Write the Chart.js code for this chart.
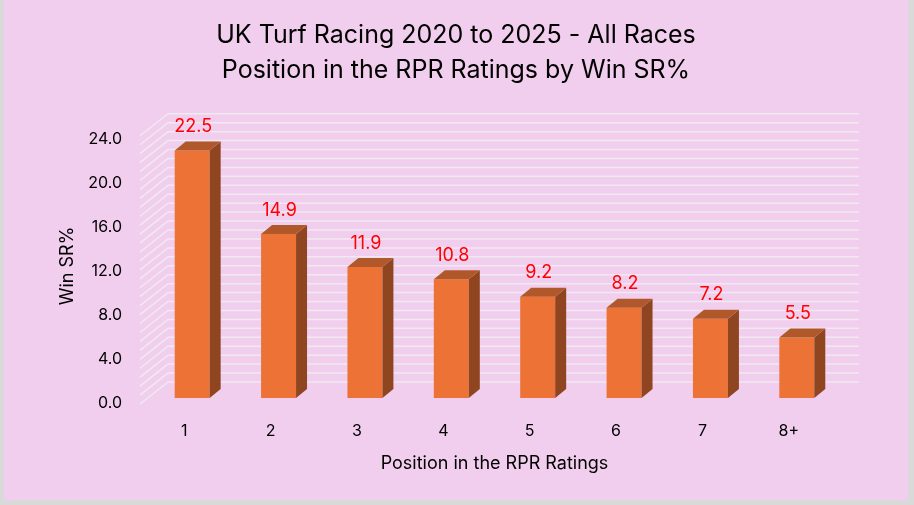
<!DOCTYPE html>
<html>
<head>
<meta charset="utf-8">
<script src="https://cdn.jsdelivr.net/npm/chart.js@4.4.1/dist/chart.umd.min.js"></script>
<style>
  html, body { margin: 0; padding: 0; background: #d9d9d9; }
  #wrap { position: absolute; left: 4px; top: 0; width: 904px; height: 500px; background: #F2CEEE; }
</style>
</head>
<body>
<div id="wrap"><canvas id="chart" width="904" height="500"></canvas></div>
<script>
// Datos del gráfico
const positions = ['1', '2', '3', '4', '5', '6', '7', '8+'];
const winSR = [22.5, 14.9, 11.9, 10.8, 9.2, 8.2, 7.2, 5.5];
const yTickStep = 4;
const yMax = 24;
const minorStep = 0.8;

const FONT = 'Inter';
const FRONT = '#EC7335';
const SIDE = '#8F4520';
const TOP = '#B0582A';
const GRID = '#EFEAEF';

// Paredes y caras laterales para simular el 3D de Excel
const depthPlugin = {
    id: 'depth',
    beforeDatasetsDraw(chart) {
        const { ctx, chartArea, scales: { y } } = chart;
        const y0 = y.getPixelForValue(0);
        const frontX = chartArea.left - 9;
        const backX = chartArea.left + 19;
        const rightX = chartArea.right + 19;
        ctx.save();
        ctx.strokeStyle = GRID;
        ctx.lineWidth = 1.5;
        const n = Math.round(yMax / minorStep);
        for (let i = 0; i <= n; i++) {
            const v = i * minorStep;
            const by = y0 - 16 - (y0 - y.getPixelForValue(v)) * 1.016;
            ctx.beginPath();
            ctx.moveTo(frontX, by + 22);
            ctx.lineTo(backX, by);
            ctx.lineTo(rightX, by);
            ctx.stroke();
        }
        ctx.restore();
    },
    afterDatasetsDraw(chart) {
        const { ctx } = chart;
        const meta = chart.getDatasetMeta(0);
        const dx = 11, dy = 9;
        ctx.save();
        meta.data.forEach((bar, i) => {
            const l = bar.x - bar.width / 2;
            const r = bar.x + bar.width / 2;
            // lado
            ctx.fillStyle = SIDE;
            ctx.beginPath();
            ctx.moveTo(r, bar.y);
            ctx.lineTo(r + dx, bar.y - dy);
            ctx.lineTo(r + dx, bar.base - dy);
            ctx.lineTo(r, bar.base);
            ctx.closePath();
            ctx.fill();
            // tapa
            ctx.fillStyle = TOP;
            ctx.beginPath();
            ctx.moveTo(l, bar.y);
            ctx.lineTo(l + dx, bar.y - dy);
            ctx.lineTo(r + dx, bar.y - dy);
            ctx.lineTo(r, bar.y);
            ctx.closePath();
            ctx.fill();
            // etiqueta
            ctx.fillStyle = '#FF0000';
            ctx.font = '18px ' + FONT;
            ctx.textAlign = 'center';
            ctx.textBaseline = 'middle';
            ctx.fillText(winSR[i].toFixed(1), bar.x + 1, bar.y - 24);
        });
        ctx.restore();
    }
};

const ctx = document.getElementById('chart').getContext('2d');
new Chart(ctx, {
    type: 'bar',
    data: {
        labels: positions,
        datasets: [{
            data: winSR,
            backgroundColor: FRONT,
            borderWidth: 0,
            categoryPercentage: 1,
            barPercentage: 0.405
        }]
    },
    options: {
        responsive: false,
        animation: false,
        layout: { padding: 0 },
        plugins: {
            legend: { display: false },
            tooltip: { enabled: false },
            title: {
                display: true,
                text: ['UK Turf Racing 2020 to 2025 - All Races', 'Position in the RPR Ratings by Win SR%'],
                color: '#000',
                font: { family: FONT, size: 25, weight: 'normal', lineHeight: 1.4 },
                padding: { top: 18, bottom: 46 }
            }
        },
        scales: {
            x: {
                grid: { display: false, drawTicks: false },
                border: { display: false },
                ticks: { color: '#000', font: { family: FONT, size: 16 }, padding: 24, labelOffset: -8 },
                title: {
                    display: true,
                    text: 'Position in the RPR Ratings',
                    color: '#000',
                    font: { family: FONT, size: 18 },
                    padding: { top: 0, bottom: 26 }
                },
                afterFit(scale) { scale.height = 102; }
            },
            y: {
                min: 0,
                max: yMax,
                grid: { display: false, drawTicks: false },
                border: { display: false },
                ticks: {
                    stepSize: yTickStep,
                    color: '#000',
                    font: { family: FONT, size: 16 },
                    padding: 27,
                    labelOffset: 5,
                    callback: v => v.toFixed(1)
                },
                title: {
                    display: true,
                    text: 'Win SR%',
                    color: '#000',
                    font: { family: FONT, size: 18 },
                    padding: { top: 53, bottom: 0 }
                },
                afterFit(scale) { scale.width = 145; }
            },
            // eje vacío a la derecha, sólo reserva espacio
            yRight: {
                position: 'right',
                display: true,
                grid: { display: false, drawTicks: false },
                border: { display: false },
                ticks: { display: false },
                afterFit(scale) { scale.width = 68; }
            }
        }
    },
    plugins: [depthPlugin]
});
</script>
</body>
</html>
